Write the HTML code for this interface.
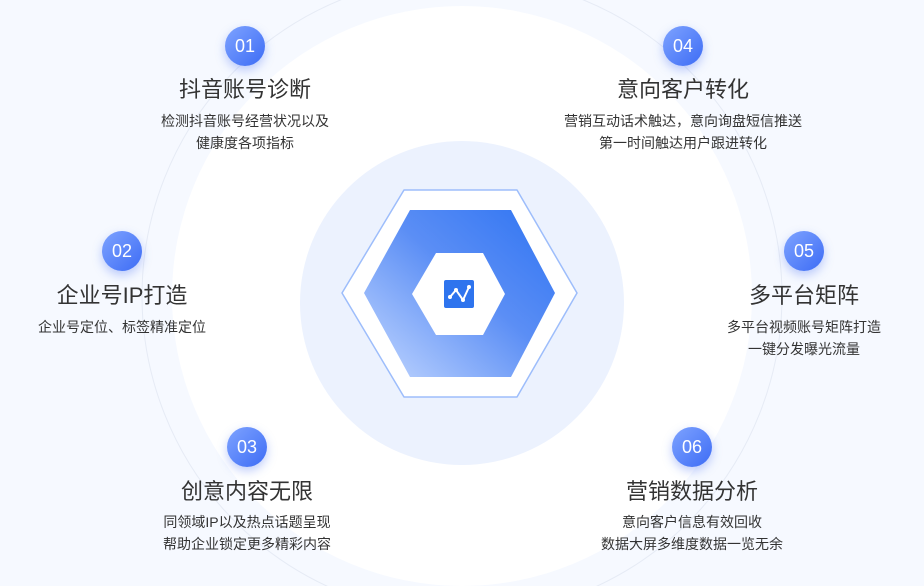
<!DOCTYPE html>
<html><head><meta charset="utf-8"><style>
html,body{margin:0;padding:0;width:924px;height:586px;overflow:hidden}
body{position:relative;background:#f6f9ff;font-family:"Liberation Sans","Noto Sans CJK SC",sans-serif;color:#333}
.w{position:absolute;left:0;top:0;width:924px;height:586px;overflow:hidden}
.b{position:absolute;width:40px;height:40px;border-radius:50%;background:linear-gradient(135deg,#7ea3ff,#3d6cf5);color:#fff;font-size:18px;line-height:40px;text-align:center;box-shadow:0 4px 10px rgba(70,110,240,.35)}
.t{position:absolute;width:300px;text-align:center;font-size:22px;color:#333;line-height:26px}
.d{position:absolute;width:340px;text-align:center;font-size:14px;color:#333;line-height:22px}
</style></head><body><div class="w">
<svg width="924" height="586" style="position:absolute;left:0;top:0;display:block">
<defs><linearGradient id="g" x1="0" y1="1" x2="1" y2="0"><stop offset="0" stop-color="#c4d8ff"/><stop offset=".55" stop-color="#5b8ef5"/><stop offset="1" stop-color="#2f74f2"/></linearGradient></defs>
<circle cx="462" cy="296" r="320" fill="none" stroke="#e6ebf5" stroke-width="1"/>
<circle cx="462" cy="296" r="290" fill="#fff"/>
<circle cx="462" cy="303" r="162" fill="#ecf2fe"/>
<polygon points="404,190 517,190 577,293 517,397 404,397 342,293" fill="#fff" stroke="#9dbdfb" stroke-width="1.5" stroke-linejoin="round"/>
<polygon points="410,210 511,210 555,293 511,377 410,377 364,293" fill="url(#g)" stroke-linejoin="round"/>
<polygon points="436,253 483,253 505,294 483,335 436,335 412,294" fill="#fff"/>
<rect x="444" y="280" width="30" height="28" rx="2" fill="#2e74ee"/>
<polyline points="450,297 456,290 463,300 469,287" fill="none" stroke="#fff" stroke-width="2"/>
<circle cx="450" cy="297" r="2" fill="#fff"/><circle cx="456" cy="290" r="2" fill="#fff"/><circle cx="463" cy="300" r="2" fill="#fff"/><circle cx="469" cy="287" r="2" fill="#fff"/>
</svg>
<div class="b" style="left:225px;top:26px">01</div>
<div class="t" style="left:95px;top:77px">抖音账号诊断</div>
<div class="d" style="left:75px;top:110px">检测抖音账号经营状况以及<br>健康度各项指标</div>
<div class="b" style="left:102px;top:231px">02</div>
<div class="t" style="left:-28px;top:283px">企业号IP打造</div>
<div class="d" style="left:-48px;top:316px">企业号定位、标签精准定位</div>
<div class="b" style="left:227px;top:427px">03</div>
<div class="t" style="left:97px;top:479px">创意内容无限</div>
<div class="d" style="left:77px;top:511px">同领域IP以及热点话题呈现<br>帮助企业锁定更多精彩内容</div>
<div class="b" style="left:663px;top:26px">04</div>
<div class="t" style="left:533px;top:77px">意向客户转化</div>
<div class="d" style="left:513px;top:110px">营销互动话术触达，意向询盘短信推送<br>第一时间触达用户跟进转化</div>
<div class="b" style="left:784px;top:231px">05</div>
<div class="t" style="left:654px;top:283px">多平台矩阵</div>
<div class="d" style="left:634px;top:316px">多平台视频账号矩阵打造<br>一键分发曝光流量</div>
<div class="b" style="left:672px;top:427px">06</div>
<div class="t" style="left:542px;top:479px">营销数据分析</div>
<div class="d" style="left:522px;top:511px">意向客户信息有效回收<br>数据大屏多维度数据一览无余</div>
</div></body></html>
